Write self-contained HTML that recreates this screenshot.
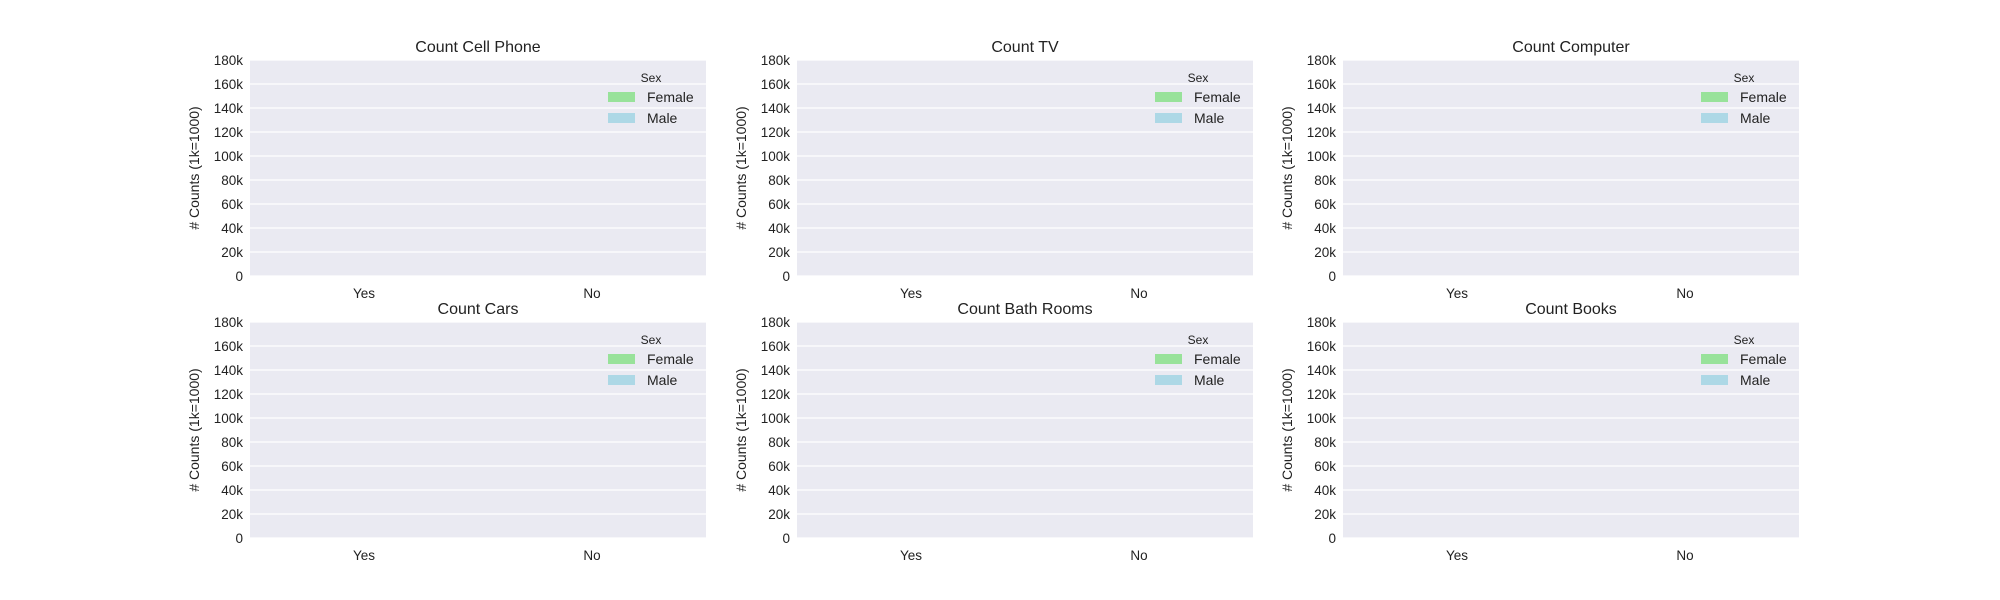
<!DOCTYPE html>
<html><head><meta charset="utf-8"><style>
html,body{margin:0;padding:0;background:#fff;}
svg{display:block;font-family:"Liberation Sans",Arial,sans-serif;}
</style></head><body>
<svg id="chart" width="2000" height="600" viewBox="0 0 2000 600" xmlns="http://www.w3.org/2000/svg"></svg>
<script>
const titles = ["Count Cell Phone","Count TV","Count Computer","Count Cars","Count Bath Rooms","Count Books"];
const categories = ["Yes","No"];
const seriesNames = ["Female","Male"];
const femaleValues = [[0,0],[0,0],[0,0],[0,0],[0,0],[0,0]];
const maleValues = [[0,0],[0,0],[0,0],[0,0],[0,0],[0,0]];
const yTicks = [0,20000,40000,60000,80000,100000,120000,140000,160000,180000];
const yTickLabels = ["0","20k","40k","60k","80k","100k","120k","140k","160k","180k"];
const seriesColors = ["#98e29a","#add8e6"];

const svg = document.getElementById('chart');
const NS = "http://www.w3.org/2000/svg";
function mk(tag, attrs, parent){const e=document.createElementNS(NS,tag);for(const k in attrs)e.setAttribute(k,attrs[k]);(parent||svg).appendChild(e);return e;}
const colX=[250,797,1343], rowY=[60,322], W=456, H=216, YMAX=180000;

titles.forEach((t,i)=>{
  const x0=colX[i%3], y0=rowY[Math.floor(i/3)];
  const g=mk('g',{});
  
  
  const yS=v=>y0+H-v/YMAX*H;
  const xBand=W/categories.length;
  const bg=mk('rect',{x:x0,y:y0,width:W,height:H,fill:'#eaeaf2'},g);
  
  
  yTicks.forEach((v,k)=>{
    const gl=mk('line',{x1:x0,x2:x0+W,y1:yS(v),y2:yS(v),stroke:'#fff','stroke-width':1.3},g);
    
    
    const tl=mk('text',{x:x0-7,y:yS(v)+5,'text-anchor':'end','font-size':13.5,fill:'#222'},g);
    tl.textContent=yTickLabels[k];
    
    
  });
  // bars
  [femaleValues[i],maleValues[i]].forEach((vals,s)=>{
    vals.forEach((v,c)=>{
      const bw=xBand*0.4;
      const bx=x0+xBand*c+xBand*0.1+s*bw;
      const b=mk('rect',{x:bx,y:yS(v),width:bw,height:y0+H-yS(v),fill:seriesColors[s]},g);
      
      
    });
  });
  categories.forEach((c,k)=>{
    const xl=mk('text',{x:x0+xBand*(k+0.5),y:y0+H+22,'text-anchor':'middle','font-size':13.5,fill:'#222'},g);
    xl.textContent=c;
    
    
  });
  const tt=mk('text',{x:x0+W/2,y:y0-8,'text-anchor':'middle','font-size':16,fill:'#222'},g);
  tt.textContent=t;
  
  
  const yl=mk('text',{x:0,y:0,'text-anchor':'middle','font-size':14,fill:'#222',transform:`translate(${x0-51},${y0+H/2}) rotate(-90)`},g);
  yl.textContent="# Counts (1k=1000)";
  
  
  // legend
  const lg=mk('g',{},g);
  
  
  const lt=mk('text',{x:x0+401,y:y0+22,'text-anchor':'middle','font-size':12,fill:'#222'},lg);
  lt.textContent="Sex";
  
  
  seriesNames.forEach((n,s)=>{
    const ly=y0+37+s*21;
    const p=mk('rect',{x:x0+358,y:ly-5,width:27,height:10,fill:seriesColors[s]},lg);
    
    
    const tx=mk('text',{x:x0+397,y:ly+5,'font-size':14,fill:'#222'},lg);
    tx.textContent=n;
    
    
  });
});
</script>
</body></html>
